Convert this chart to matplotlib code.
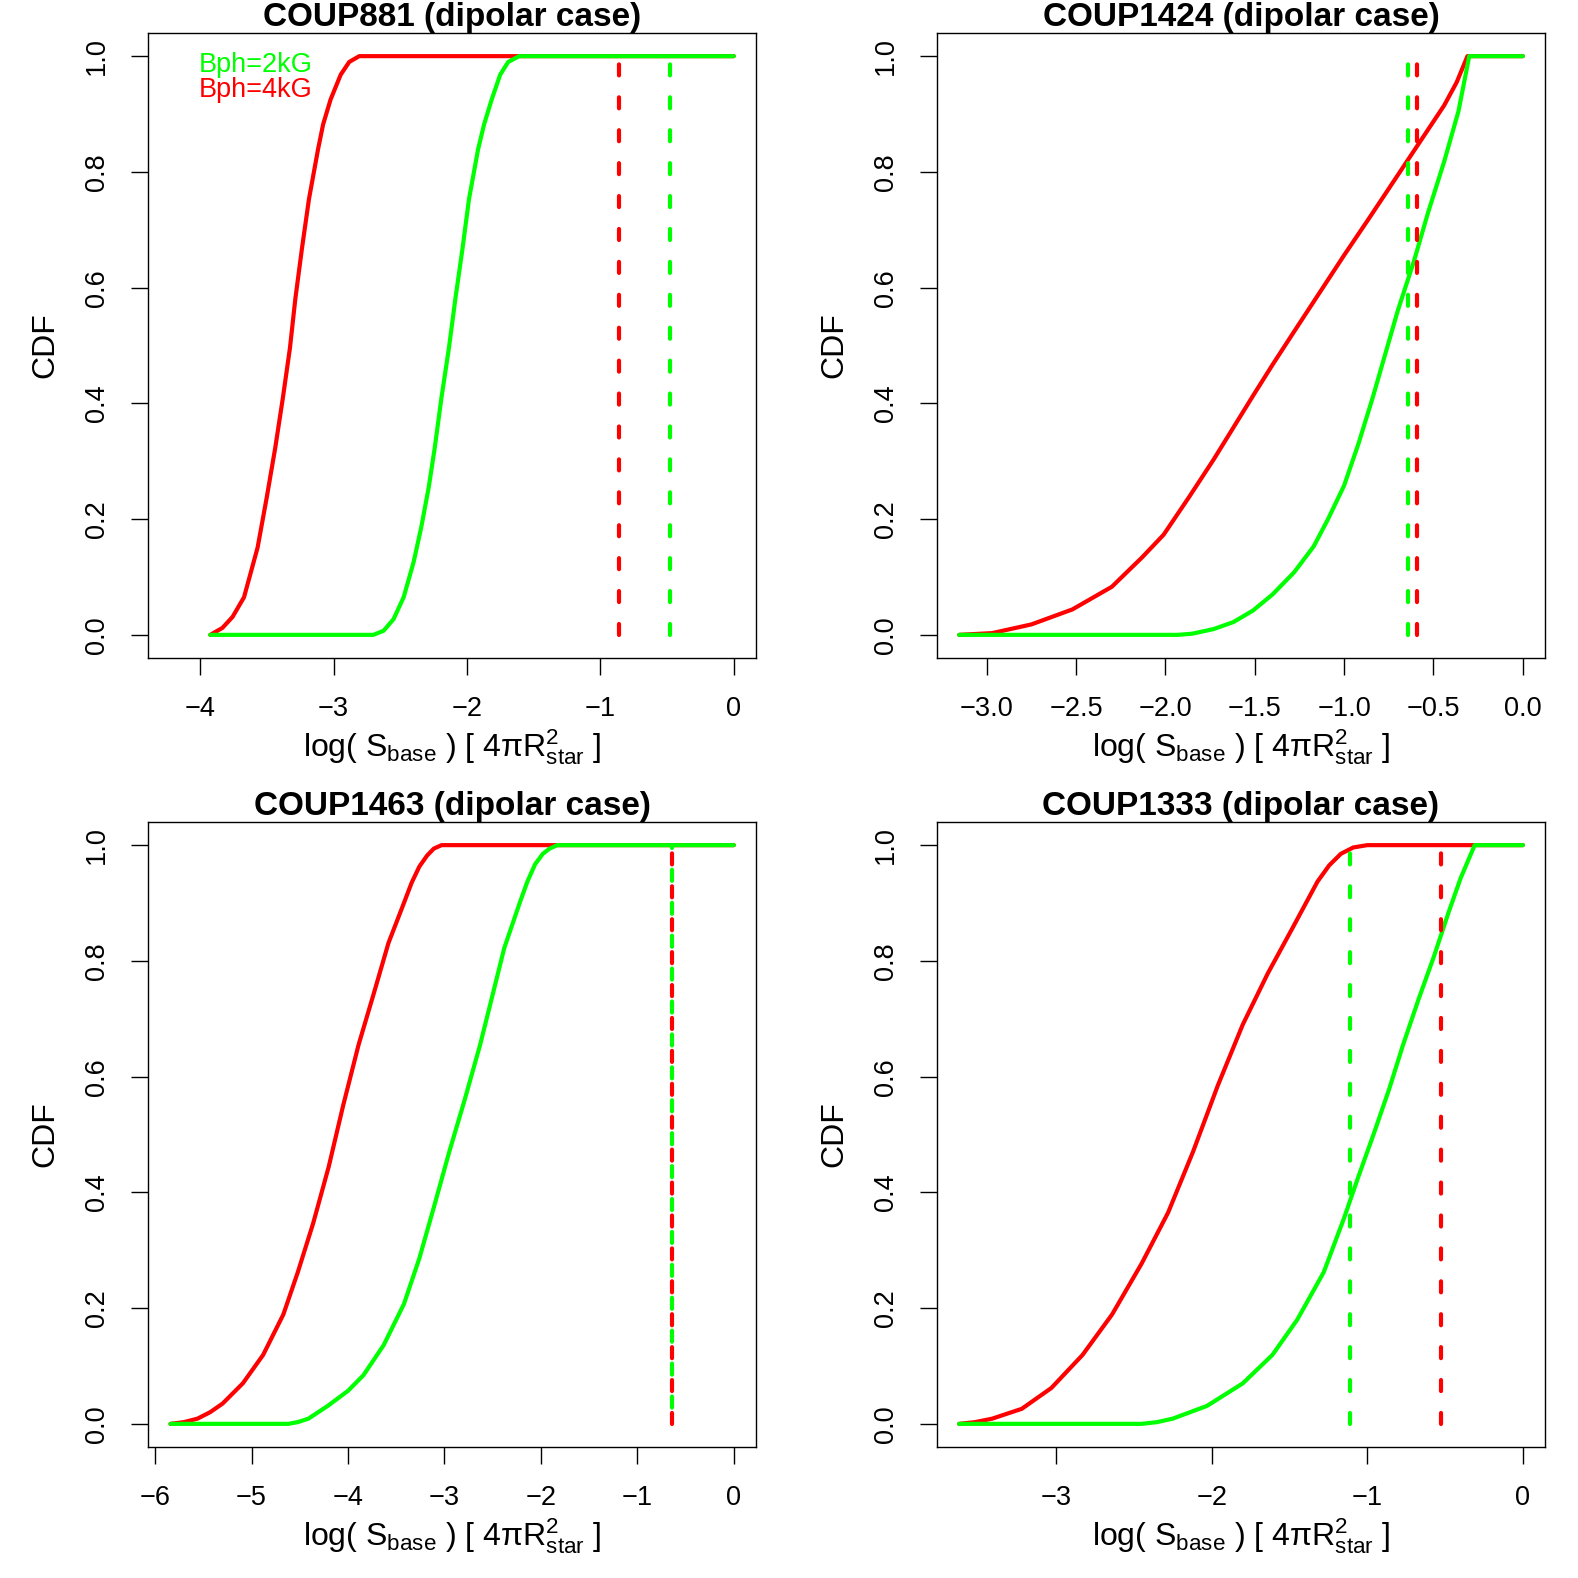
import matplotlib.pyplot as plt

plt.rcParams['font.family'] = ['Liberation Sans', 'DejaVu Sans']
plt.rcParams['mathtext.fontset'] = 'custom'
plt.rcParams['mathtext.rm'] = 'Liberation Sans'
plt.rcParams['mathtext.it'] = 'Liberation Sans:italic'
plt.rcParams['mathtext.bf'] = 'Liberation Sans:bold'

RED = '#FF0000'
GREEN = '#00FF00'

# COUP881
x881_4kG = [-3.925, -3.834, -3.758, -3.672, -3.570, -3.502, -3.438, -3.381, -3.328, -3.287,
            -3.238, -3.185, -3.117, -3.079, -3.023, -2.947, -2.883, -2.808, 0.0]
y881_4kG = [0.0, 0.012, 0.031, 0.065, 0.151, 0.237, 0.323, 0.409, 0.495, 0.581,
            0.667, 0.753, 0.839, 0.882, 0.925, 0.968, 0.990, 1.0, 1.0]
x881_2kG = [-3.925, -2.702, -2.626, -2.551, -2.475, -2.400, -2.343, -2.287, -2.242, -2.192,
            -2.136, -2.087, -2.034, -1.985, -1.917, -1.872, -1.815, -1.751, -1.691, -1.608, 0.0]
y881_2kG = [0.0, 0.0, 0.007, 0.027, 0.065, 0.126, 0.186, 0.255, 0.323, 0.409,
            0.495, 0.581, 0.667, 0.753, 0.839, 0.882, 0.925, 0.968, 0.990, 1.0, 1.0]
v881_4kG = -0.861
v881_2kG = -0.476

# COUP1424
x1424_4kG = [-3.154, -2.97, -2.75, -2.52, -2.30, -2.13, -2.01, -1.87, -1.73, -1.62, -1.51,
             -1.40, -1.28, -1.14, -1.00, -0.86, -0.72, -0.58, -0.44, -0.37, -0.31, 0.0]
y1424_4kG = [0.0, 0.003, 0.018, 0.044, 0.083, 0.134, 0.173, 0.237, 0.303, 0.358, 0.413,
             0.467, 0.524, 0.59, 0.656, 0.72, 0.785, 0.85, 0.915, 0.955, 1.0, 1.0]
x1424_2kG = [-3.154, -1.93, -1.85, -1.73, -1.62, -1.51, -1.40, -1.28, -1.17, -1.09, -1.00,
             -0.92, -0.84, -0.77, -0.70, -0.61, -0.53, -0.44, -0.36, -0.30, 0.0]
y1424_2kG = [0.0, 0.0, 0.002, 0.01, 0.022, 0.042, 0.07, 0.108, 0.153, 0.2, 0.258,
             0.33, 0.41, 0.485, 0.56, 0.645, 0.73, 0.818, 0.905, 1.0, 1.0]
v1424_4kG = -0.590
v1424_2kG = -0.640

# COUP1463
x1463_4kG = [-5.84, -5.70, -5.56, -5.43, -5.30, -5.09, -4.88, -4.67, -4.52, -4.36, -4.20,
             -4.05, -3.89, -3.73, -3.58, -3.42, -3.34, -3.26, -3.18, -3.11, -3.03, 0.0]
y1463_4kG = [0.0, 0.003, 0.009, 0.02, 0.035, 0.07, 0.119, 0.189, 0.262, 0.347, 0.444,
             0.55, 0.655, 0.745, 0.831, 0.90, 0.935, 0.963, 0.982, 0.994, 1.0, 1.0]
x1463_2kG = [-5.84, -4.62, -4.52, -4.41, -4.21, -4.00, -3.84, -3.63, -3.42, -3.26, -3.11,
             -2.95, -2.79, -2.63, -2.48, -2.38, -2.22, -2.14, -2.06, -1.98, -1.91, -1.83, 0.0]
y1463_2kG = [0.0, 0.0, 0.003, 0.009, 0.031, 0.057, 0.084, 0.136, 0.207, 0.286, 0.374,
             0.47, 0.56, 0.655, 0.755, 0.822, 0.90, 0.937, 0.967, 0.985, 0.994, 1.0, 1.0]
v1463_4kG = -0.645
v1463_2kG = -0.645

# COUP1333
x1333_4kG = [-3.623, -3.52, -3.41, -3.22, -3.03, -2.83, -2.64, -2.45, -2.28, -2.12, -1.96,
             -1.80, -1.64, -1.48, -1.32, -1.245, -1.17, -1.09, -1.00, 0.0]
y1333_4kG = [0.0, 0.003, 0.009, 0.026, 0.062, 0.119, 0.189, 0.277, 0.365, 0.47, 0.585,
             0.69, 0.778, 0.857, 0.937, 0.965, 0.985, 0.996, 1.0, 1.0]
x1333_2kG = [-3.623, -2.45, -2.35, -2.25, -2.03, -1.80, -1.61, -1.45, -1.28, -1.15, -1.06,
             -0.96, -0.86, -0.77, -0.67, -0.57, -0.48, -0.40, -0.31, 0.0]
y1333_2kG = [0.0, 0.0, 0.003, 0.009, 0.031, 0.07, 0.119, 0.18, 0.262, 0.355, 0.425,
             0.5, 0.578, 0.655, 0.734, 0.809, 0.882, 0.943, 1.0, 1.0]
v1333_4kG = -0.529
v1333_2kG = -1.113

# axis ranges / ticks as in the original R plots
xlim881, xticks881 = (-4.392, 0.167), [-4, -3, -2, -1, 0]
xlim1424, xticks1424 = (-3.278, 0.124), [-3.0, -2.5, -2.0, -1.5, -1.0, -0.5, 0.0]
xlim1463, xticks1463 = (-6.073, 0.23), [-6, -5, -4, -3, -2, -1, 0]
xlim1333, xticks1333 = (-3.765, 0.142), [-3, -2, -1, 0]
yticks = [0.0, 0.2, 0.4, 0.6, 0.8, 1.0]

LW = 3.0
DASH = (2.65, 5.25)


def panel(ax, name, xr, yr, xg, yg, vr, vg, xlim, xticks, green_offset=0.0):
    ax.plot(xr, yr, color=RED, lw=LW, solid_capstyle='round', solid_joinstyle='round')
    ax.plot(xg, yg, color=GREEN, lw=LW, solid_capstyle='round', solid_joinstyle='round')
    # median lines
    ax.plot([vg, vg], [0, 1], color=GREEN, lw=LW, linestyle=(green_offset, DASH),
            dash_capstyle='round')
    ax.plot([vr, vr], [0, 1], color=RED, lw=LW, linestyle=(0.0, DASH),
            dash_capstyle='round')
    ax.set_xlim(xlim)
    ax.set_ylim(-0.04, 1.04)
    ax.set_xticks(xticks)
    ax.set_yticks(yticks)
    ax.tick_params(length=12.2, width=1.0, pad=15, labelsize=19.5)
    ax.tick_params(axis='y', labelrotation=90)
    for lab in ax.get_yticklabels():
        lab.set_va('center')
    for sp in ax.spines.values():
        sp.set_linewidth(1.0)
    ax.set_title('COUP%s (dipolar case)' % name, fontsize=24, fontweight='bold', pad=3)
    ax.set_xlabel(r'log( S$_{\mathrm{base}}$ ) [ 4πR$^{2}_{\mathrm{star}}$ ]', fontsize=23)
    ax.xaxis.set_label_coords(0.5, -0.158)
    ax.xaxis.label.set_va('baseline')
    ax.set_ylabel('CDF', fontsize=23)
    ax.yaxis.set_label_coords(-0.168, 0.5)
    ax.yaxis.label.set_va('center')


fig = plt.figure(figsize=(15.78, 15.78), dpi=100)
W, H = 608 / 1578, 625 / 1578
ax1 = fig.add_axes([148 / 1578, 1 - 658 / 1578, W, H])
ax2 = fig.add_axes([937 / 1578, 1 - 658 / 1578, W, H])
ax3 = fig.add_axes([148 / 1578, 1 - 1447 / 1578, W, H])
ax4 = fig.add_axes([937 / 1578, 1 - 1447 / 1578, W, H])

panel(ax1, '881', x881_4kG, y881_4kG, x881_2kG, y881_2kG, v881_4kG, v881_2kG, xlim881, xticks881)
panel(ax2, '1424', x1424_4kG, y1424_4kG, x1424_2kG, y1424_2kG, v1424_4kG, v1424_2kG, xlim1424, xticks1424)
panel(ax3, '1463', x1463_4kG, y1463_4kG, x1463_2kG, y1463_2kG, v1463_4kG, v1463_2kG, xlim1463, xticks1463,
      green_offset=3.95)
panel(ax4, '1333', x1333_4kG, y1333_4kG, x1333_2kG, y1333_2kG, v1333_4kG, v1333_2kG, xlim1333, xticks1333)

# legend text (R style, coloured labels only)
ax1.text(-4.015, 0.973, 'Bph=2kG', color=GREEN, fontsize=19.5, ha='left', va='baseline')
ax1.text(-4.015, 0.930, 'Bph=4kG', color=RED, fontsize=19.5, ha='left', va='baseline')

plt.savefig('out.png', dpi=100)
